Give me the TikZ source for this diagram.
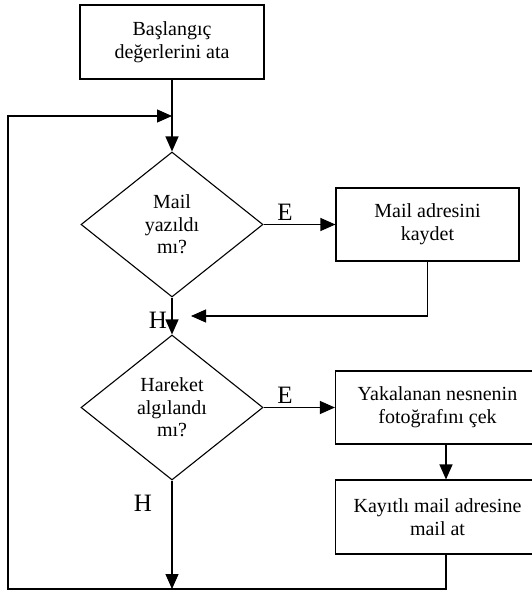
\documentclass[tikz,border=0pt]{standalone}
\usepackage{fontspec}
\setmainfont{Liberation Serif}
\usepackage{tikz}
\usetikzlibrary{arrows.meta,positioning,shapes.geometric}

\begin{document}
\begin{tikzpicture}[
  x=1pt, y=1pt,
  stepbox/.style  = {draw, line width=1.1pt, align=center,
                     font=\fontsize{20}{23}\selectfont, inner sep=0pt},
  decision/.style = {draw, diamond, line width=1.1pt, align=center,
                     font=\fontsize{20}{22.5}\selectfont, inner sep=0pt,
                     minimum width=182pt, minimum height=145pt},
  branchlbl/.style= {font=\fontsize{25}{25}\selectfont, inner sep=0pt},
  arr/.style      = {-{Triangle[length=15pt,width=13pt]}, line width=1.1pt},
  wire/.style     = {line width=1.1pt},
]
\useasboundingbox (0,0) rectangle (532,-594);

%% ── Main column ──────────────────────────────────────────────────────────────
\node[stepbox, minimum width=184pt, minimum height=74pt] (start) at (172,-42)
  {Başlangıç\\değerlerini ata};
\node[decision] (mailq) at (172,-224.5) {Mail\\yazıldı\\mı?};
\node[decision] (moveq) at (172,-407.5) {Hareket\\algılandı\\mı?};

%% ── Right column ─────────────────────────────────────────────────────────────
\node[stepbox, minimum width=183pt, minimum height=73pt] (savemail) at (427.5,-224.5)
  {Mail adresini\\kaydet};
\node[stepbox, minimum width=204pt, minimum height=73pt] (photo) at (437.5,-407.5)
  {Yakalanan nesnenin\\fotoğrafını çek};
\node[stepbox, minimum width=204pt, minimum height=74pt] (sendmail) at (437.5,-517)
  {Kayıtlı mail adresine\\mail at};

%% ── Loop points ──────────────────────────────────────────────────────────────
\coordinate (loopin)  at (172,-116);
\coordinate (backin)  at (191,-316);
\coordinate (joinbot) at (172,-589);

%% ── Connectors ───────────────────────────────────────────────────────────────
\draw[arr] (start.south) -- (mailq.north);
\draw[arr] (mailq.east) -- (savemail.west);
\draw[arr] (mailq.south) -- (moveq.north);
\draw[arr] (savemail.south) |- (backin);
\draw[arr] (moveq.east) -- (photo.west);
\draw[arr] ([xshift=8.5pt]photo.south) -- ([xshift=8.5pt]sendmail.north);
\draw[arr] (moveq.south) -- (joinbot);
\draw[arr] ([xshift=8.5pt]sendmail.south) |- (8,-589) |- (loopin);

%% ── Branch labels ────────────────────────────────────────────────────────────
\node[branchlbl] (e1) at (285,-212) {E};
\node[branchlbl] (h1) at (158,-320) {H};
\node[branchlbl] (e2) at (285,-395) {E};
\node[branchlbl] (h2) at (143,-503) {H};

\end{tikzpicture}
\end{document}
